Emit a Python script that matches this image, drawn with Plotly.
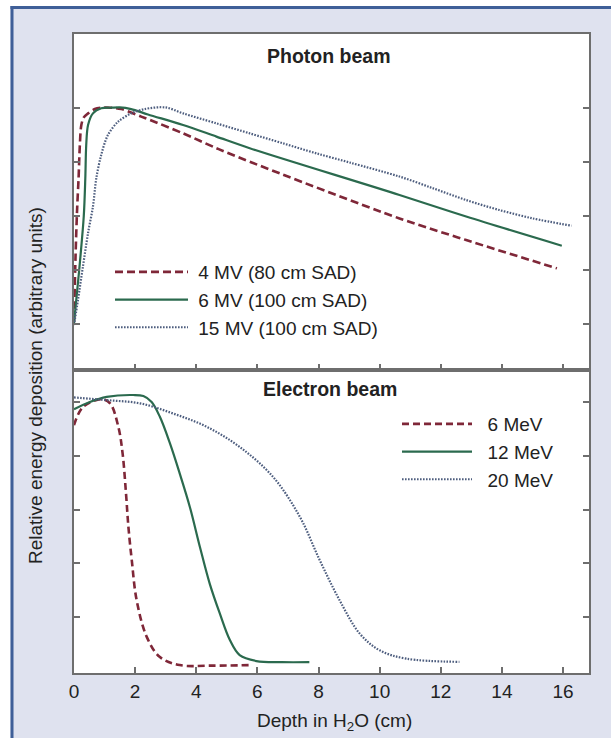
import plotly.graph_objects as go

# ---- depth-dose data (depth in cm, relative energy deposition) ----
# Photon beams (upper panel)
depth_4mv = [0, 0.05, 0.10, 0.15, 0.19, 0.24, 0.32, 0.46, 0.68, 0.90, 1.20, 1.55, 2.20, 2.48,
             3.57, 4.66, 5.75, 10.65, 12.83, 15.80]
dose_4mv = [21, 45, 62, 74, 86, 93.7, 96.5, 98, 99.6, 100.1, 100.1, 99.6, 96.8, 95.6,
            90.6, 85.1, 80.1, 59.1, 51.1, 40.6]

depth_6mv = [0, 0.17, 0.32, 0.37, 0.40, 0.46, 0.62, 0.89, 1.22, 1.50, 1.87, 2.42,
             3.57, 4.66, 5.75, 10.65, 12.83, 15.96]
dose_6mv = [20.4, 40, 60, 74, 86.3, 93.7, 98, 99.9, 100.1, 100.2, 99.6, 97.6,
            93.7, 89.4, 85.1, 67.8, 59.8, 49.0]

depth_15mv = [0, 0.13, 0.29, 0.46, 0.62, 0.73, 0.89, 1.11, 1.44, 1.87, 2.31, 3.00,
              3.57, 4.66, 5.75, 6.84, 7.93, 9.02, 10.65, 11.74, 12.83, 13.92, 15.01, 16.28]
dose_15mv = [19.6, 28.9, 41.1, 53.7, 63.5, 74, 82.6, 90, 94.9, 98, 99.6, 100.2,
             98, 94.3, 90.6, 86.9, 83.2, 79.8, 74.6, 70.3, 65.9, 62.2, 59.1, 56.4]

# Electron beams (lower panel)
depth_6mev = [0, 0.30, 0.90, 1.18, 1.45, 1.59, 1.70, 1.78, 1.89, 2.05, 2.38, 2.81, 3.46, 4.50, 5.80]
dose_6mev = [91.4, 98.2, 101, 99.5, 90.8, 80.9, 66.2, 53.6, 41.2, 26.3, 12.7, 5.2, 2.2, 2.0, 2.2]

depth_12mev = [0, 0.52, 1.07, 1.94, 2.27, 2.54, 2.81, 3.14, 3.46, 3.79, 4.12, 4.44,
               4.77, 5.10, 5.42, 5.97, 6.80, 7.70]
dose_12mev = [97.3, 100, 101.9, 102.6, 102.2, 100, 94.5, 84.6, 73.4, 61, 46.1, 32.5,
              21.4, 11.5, 5.9, 3.7, 3.3, 3.3]

depth_20mev = [0, 1.07, 2.16, 3.25, 4.34, 5.42, 6.51, 7.39, 8.04, 8.69, 9.35, 10.00, 10.87, 12.61]
dose_20mev = [101.7, 100.7, 99.5, 95.7, 90.8, 83.3, 72.2, 57.3, 41.2, 26.3, 13.9, 7.7, 4.6, 3.4]

photon_names = ["4 MV (80 cm SAD)", "6 MV (100 cm SAD)", "15 MV (100 cm SAD)"]
electron_names = ["6 MeV", "12 MeV", "20 MeV"]

x_ticks = [0, 2, 4, 6, 8, 10, 12, 14, 16]
y_ticks = [20, 40, 60, 80, 100]

# ---- styling ----
RED = "#7f2738"
GREEN = "#2b6a4e"
BLUE = "#4d5d7e"
FRAME = "#6e6e6e"
BG = "#dfe2ef"
FONT = "Liberation Sans, Arial, sans-serif"
TXT = "#222222"
FS = 19

W, H = 611, 738
L, R, T, B = 74, 22, 34, 65
plot_h = H - T - B
split = (673 - 370) / plot_h  # boundary between the two panels


def px(x):
    return (x - L) / (W - L - R)


def py(y):
    return (H - B - y) / plot_h


fig = go.Figure()

photon_sets = [
    (depth_4mv, dose_4mv, RED, "8px,4px", 2.6),
    (depth_6mv, dose_6mv, GREEN, "solid", 2.2),
    (depth_15mv, dose_15mv, BLUE, "1.6px,1.4px", 2.2),
]
for (d, v, c, dash, w), name in zip(photon_sets, photon_names):
    fig.add_trace(go.Scatter(x=d, y=v, mode="lines", name="\u00a0" + name,
                             line=dict(color=c, dash=dash, width=w, shape="spline", smoothing=0.9),
                             xaxis="x2", yaxis="y2", legend="legend"))

electron_sets = [
    (depth_6mev, dose_6mev, RED, "7px,4px", 2.6),
    (depth_12mev, dose_12mev, GREEN, "solid", 2.2),
    (depth_20mev, dose_20mev, BLUE, "1.6px,1.4px", 2.2),
]
for (d, v, c, dash, w), name in zip(electron_sets, electron_names):
    fig.add_trace(go.Scatter(x=d, y=v, mode="lines", name="\u00a0\u00a0" + name,
                             line=dict(color=c, dash=dash, width=w, shape="spline", smoothing=1.0),
                             xaxis="x", yaxis="y", legend="legend2"))

axis_common = dict(showline=True, linecolor=FRAME, linewidth=1.8, showgrid=False, zeroline=False,
                   ticks="inside", ticklen=6, tickwidth=1.6, tickcolor=FRAME)

fig.update_layout(
    width=W, height=H,
    margin=dict(l=L, r=R, t=T, b=B),
    paper_bgcolor=BG, plot_bgcolor="white",
    font=dict(family=FONT, size=FS, color=TXT),
    xaxis=dict(**axis_common, mirror=True, range=[0, 16.85], tickvals=x_ticks,
               tickfont=dict(size=FS, color=TXT), anchor="y", domain=[0, 1]),
    yaxis=dict(**axis_common, mirror="ticks", range=[-0.74, 111.9], tickvals=y_ticks,
               showticklabels=False, domain=[0, split], anchor="x"),
    xaxis2=dict(**axis_common, mirror=True, range=[0, 16.85], tickvals=x_ticks,
                showticklabels=False, anchor="y2", matches="x"),
    yaxis2=dict(**axis_common, mirror="ticks", range=[2.96, 127.4], tickvals=y_ticks,
                showticklabels=False, domain=[split, 1], anchor="x2"),
    legend=dict(x=px(110), y=py(253), xanchor="left", yanchor="top", bgcolor="rgba(0,0,0,0)",
                font=dict(size=FS, color=TXT), itemwidth=73, tracegroupgap=0),
    legend2=dict(x=px(397), y=py(405), xanchor="left", yanchor="top", bgcolor="rgba(0,0,0,0)",
                 font=dict(size=FS, color=TXT), itemwidth=70, tracegroupgap=0),
    showlegend=True,
)

fig.add_annotation(text="<b>Photon beam</b>", x=px(329), y=py(56), xref="paper", yref="paper",
                   xanchor="center", yanchor="middle", showarrow=False,
                   font=dict(size=19.5, color=TXT))
fig.add_annotation(text="<b>Electron beam</b>", x=px(330), y=py(389), xref="paper", yref="paper",
                   xanchor="center", yanchor="middle", showarrow=False,
                   font=dict(size=19.5, color=TXT))
fig.add_annotation(text="Depth in H<sub>2</sub>O (cm)", x=px(334), y=py(722), xref="paper", yref="paper",
                   xanchor="center", yanchor="middle", showarrow=False,
                   font=dict(size=FS, color=TXT))
fig.add_annotation(text="Relative energy deposition (arbitrary units)", x=px(35), y=py(386),
                   xref="paper", yref="paper", textangle=-90, xanchor="center", yanchor="middle",
                   showarrow=False, font=dict(size=FS, color=TXT))

# page surround: white edge strips and a blue frame line
fig.add_shape(type="rect", xref="paper", yref="paper", x0=px(-5), x1=px(620), y0=py(-5), y1=py(6),
              fillcolor="white", line_width=0, layer="below")
fig.add_shape(type="rect", xref="paper", yref="paper", x0=px(-5), x1=px(10.5), y0=py(-5), y1=py(745),
              fillcolor="white", line_width=0, layer="below")
fig.add_shape(type="line", xref="paper", yref="paper", x0=px(12), x1=px(12), y0=py(6), y1=py(745),
              line=dict(color="#3f5f98", width=3), layer="below")
fig.add_shape(type="line", xref="paper", yref="paper", x0=px(10.5), x1=px(620), y0=py(7.5), y1=py(7.5),
              line=dict(color="#3f5f98", width=3), layer="below")

fig.write_html("out.html")
